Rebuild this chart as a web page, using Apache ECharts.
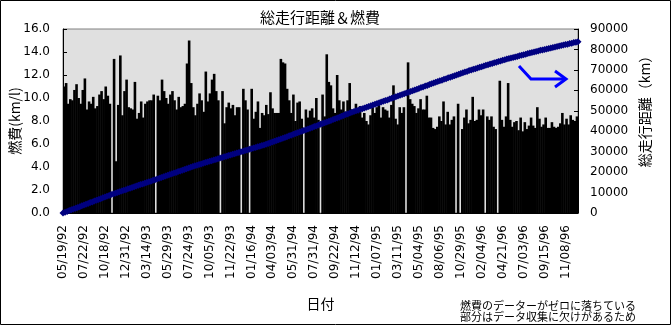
<!DOCTYPE html>
<html>
<head>
<meta charset="utf-8">
<script src="https://cdn.jsdelivr.net/npm/echarts/dist/echarts.min.js"></script>
<style>
html, body { margin: 0; padding: 0; background: #fff; }
#chart { width: 671px; height: 325px; }
</style>
</head>
<body>
<div id="chart"></div>
<script>
// Date labels shown under every tenth fill-up
const tickLabels = [
  '05/19/92', '07/22/92', '10/18/92', '12/31/92', '03/14/93', '05/29/93', '07/24/93',
  '10/05/93', '11/22/93', '01/16/94', '04/03/94', '05/31/94', '07/31/94', '09/22/94',
  '11/12/94', '01/07/95', '03/11/95', '05/04/95', '08/06/95', '10/29/95', '02/04/96',
  '04/21/96', '07/03/96', '09/15/96', '11/08/96'
];

// Fuel economy per fill-up (km/l); 0 marks a fill-up with no recorded data
const fuelEconomy = [
  11.0, 11.3, 9.5, 9.9, 9.8, 10.7, 11.2, 10.0, 9.5, 10.7,
  11.7, 9.0, 9.7, 9.5, 10.1, 9.1, 9.3, 10.3, 10.6, 9.9,
  11.0, 10.2, 9.5, 0, 13.4, 4.5, 9.4, 13.7, 8.5, 10.6,
  11.6, 9.2, 9.1, 9.0, 11.4, 8.2, 8.7, 9.7, 8.3, 9.5,
  9.7, 9.8, 9.8, 10.3, 0, 10.2, 9.8, 11.6, 10.6, 10.0,
  9.5, 10.3, 10.6, 9.8, 9.0, 10.1, 9.2, 9.3, 9.5, 13.0,
  15.0, 11.3, 9.2, 8.5, 9.5, 10.4, 9.8, 8.8, 12.3, 9.7,
  10.4, 11.6, 12.1, 10.6, 9.8, 0, 10.6, 7.8, 9.2, 9.6,
  9.1, 9.4, 8.5, 9.2, 9.2, 0, 10.8, 9.8, 9.0, 0,
  10.8, 8.2, 8.8, 9.7, 7.4, 8.7, 8.5, 9.4, 8.6, 10.5,
  9.1, 8.7, 8.7, 8.7, 13.4, 13.1, 13.0, 10.8, 9.8, 8.7,
  10.3, 8.0, 9.6, 9.7, 8.2, 0, 9.0, 8.3, 8.9, 9.1,
  8.3, 10.0, 8.1, 0, 10.3, 8.4, 13.8, 11.4, 11.1, 9.1,
  8.7, 12.0, 9.8, 9.0, 9.7, 8.8, 9.8, 11.3, 9.0, 8.7,
  9.5, 8.8, 9.3, 8.3, 8.7, 8.0, 7.7, 8.5, 9.2, 8.7,
  9.2, 9.7, 8.3, 9.2, 9.0, 8.9, 8.3, 9.4, 11.1, 8.2,
  7.7, 9.2, 8.7, 9.2, 0, 13.1, 9.9, 9.5, 9.3, 8.7,
  9.1, 9.9, 9.0, 9.0, 10.2, 8.3, 8.3, 7.4, 7.3, 7.5,
  8.4, 8.0, 9.7, 7.7, 8.8, 7.7, 8.1, 8.4, 0, 9.5,
  0, 7.3, 8.3, 9.0, 7.8, 8.1, 10.1, 8.0, 8.1, 9.0,
  8.5, 9.0, 0, 8.4, 8.1, 8.4, 7.5, 7.3, 0, 11.5,
  8.1, 7.5, 8.4, 11.3, 8.1, 7.5, 7.9, 8.0, 7.2, 8.3,
  7.1, 7.9, 7.3, 7.6, 8.3, 7.6, 7.4, 9.2, 8.2, 7.5,
  7.7, 8.3, 7.4, 7.4, 7.9, 7.5, 7.4, 7.5, 7.8, 8.7,
  7.7, 8.2, 7.7, 8.5, 8.1, 8.0, 8.4
];

// Total distance travelled at each fill-up (km)
const odometer = [
  0, 360, 790, 1180, 1540, 1950, 2330, 2740, 3100, 3510,
  3890, 4290, 4660, 5080, 5430, 5870, 6210, 6640, 7000, 7400,
  7770, 8190, 8580, 9000,
  9330, 9710, 10030, 10400, 10720, 11100, 11430, 11810, 12120, 12500,
  12810, 13190, 13520, 13880, 14200, 14580, 14900, 15290, 15590, 15970, 16300,
  16670, 17000, 17400, 17720, 18110, 18430, 18820, 19150, 19540, 19860,
  20260, 20570, 20970, 21300, 21690, 22010, 22410, 22720, 23100,
  23390, 23740, 24020, 24370, 24640, 24980, 25260, 25600, 25880, 26220,
  26490, 26850, 27110, 27470, 27730, 28080, 28350, 28700, 28970, 29300,
  29630, 29900, 30240, 30510, 30860, 31130, 31470, 31740, 32090, 32350,
  32700, 32970, 33310, 33600,
  33990, 34330, 34740, 35080, 35490, 35830, 36240, 36580, 36990, 37330,
  37740, 38080, 38490, 38830, 39240, 39600,
  40000, 40330, 40750, 41090, 41510, 41840, 42260, 42590, 43010, 43350,
  43770, 44100, 44500,
  44920, 45280, 45720, 46080, 46520, 46880, 47320, 47680, 48120, 48480, 48900,
  49280, 49590, 49990, 50310, 50700, 51020, 51410, 51730, 52130, 52440,
  52840, 53160, 53550, 53870, 54260, 54600,
  54990, 55330, 55740, 56070, 56480, 56820, 57230, 57560, 57980, 58310, 58700,
  59090, 59430, 59840, 60170, 60590, 60920, 61330, 61670, 62080, 62410,
  62830, 63160, 63570, 63910, 64300,
  64680, 64990, 65390, 65710, 66100, 66420, 66820, 67130, 67530, 67840,
  68240, 68560, 68950, 69270, 69660, 70000,
  70330, 70610, 70960, 71230, 71580, 71860, 72210, 72480, 72830, 73110,
  73460, 73730, 74080, 74360, 74710, 75000,
  75290, 75520, 75830, 76060, 76360, 76590, 76900, 77130, 77440, 77670,
  77980, 78210, 78510, 78740, 79050, 79300,
  79560, 79750, 80030, 80230, 80510, 80700, 80980, 81180, 81450, 81650,
  81930, 82120, 82400, 82600, 82870, 83070, 83350, 83540, 83800
];

const fillNo = fuelEconomy.map((_, i) => i);

const FONT = '"DejaVu Sans", "Noto Sans CJK JP", sans-serif';
const JP = '"Noto Sans CJK JP", sans-serif';

const chart = echarts.init(document.getElementById('chart'), null, { renderer: 'canvas' });

chart.setOption({
  animation: false,
  backgroundColor: '#ffffff',
  title: {
    text: '総走行距離＆燃費',
    left: 315,
    top: 5,
    textAlign: 'center',
    textStyle: { fontFamily: JP, fontSize: 15, fontWeight: 'normal', color: '#000' }
  },
  grid: {
    left: 63, right: 93, top: 29, bottom: 112,
    containLabel: false,
    outerBoundsMode: 'none',
    show: true, backgroundColor: '#e0e0e0', borderColor: '#808080', borderWidth: 1
  },
  xAxis: [
    {
      // band axis carrying the fuel-economy bars
      type: 'category',
      data: fillNo,
      boundaryGap: true,
      show: false
    },
    {
      // fill-up positions for the distance line and the date labels
      type: 'category',
      data: fillNo,
      boundaryGap: false,
      position: 'bottom',
      name: '日付',
      nameLocation: 'middle',
      nameGap: 84,
      nameMoveOverlap: false,
      nameTextStyle: { fontFamily: JP, fontSize: 14, color: '#000' },
      axisLine: { show: true, lineStyle: { color: '#000', width: 1 } },
      axisTick: { show: false },
      splitLine: { show: false },
      axisLabel: {
        interval: 9,
        rotate: 90,
        margin: 12,
        fontFamily: FONT,
        fontSize: 12,
        color: '#000',
        formatter: (v, i) => (i % 10 === 0 && tickLabels[i / 10]) ? tickLabels[i / 10] : ''
      }
    }
  ],
  yAxis: [
    {
      type: 'value',
      min: 0, max: 16, interval: 2,
      position: 'left',
      name: '燃費(km/l)',
      nameLocation: 'middle',
      nameRotate: 90,
      nameGap: 41,
      nameMoveOverlap: false,
      nameTextStyle: { fontFamily: JP, fontSize: 14, color: '#000' },
      axisLine: { show: true, lineStyle: { color: '#000', width: 1 } },
      axisTick: { show: true, inside: true, length: 4, lineStyle: { color: '#000' } },
      splitLine: { show: false },
      axisLabel: {
        margin: 13, fontFamily: FONT, fontSize: 12, color: '#000',
        formatter: v => v.toFixed(1)
      }
    },
    {
      type: 'value',
      min: 0, max: 90000, interval: 10000,
      position: 'right',
      name: '総走行距離（km）',
      nameLocation: 'middle',
      nameRotate: 90,
      nameGap: 60,
      nameMoveOverlap: false,
      nameTextStyle: { fontFamily: JP, fontSize: 14, color: '#000', padding: [0, 0, 0, 26] },
      axisLine: { show: true, lineStyle: { color: '#000', width: 1 } },
      axisTick: { show: true, inside: true, length: 4, lineStyle: { color: '#000' } },
      splitLine: { show: false },
      axisLabel: {
        margin: 12, fontFamily: FONT, fontSize: 12, color: '#000',
        formatter: v => String(v)
      }
    }
  ],
  series: [
    {
      name: '燃費',
      type: 'bar',
      xAxisIndex: 0,
      yAxisIndex: 0,
      data: fuelEconomy,
      barWidth: 2.6,
      itemStyle: { color: '#000000' }
    },
    {
      name: '総走行距離',
      type: 'line',
      xAxisIndex: 1,
      yAxisIndex: 1,
      data: odometer,
      symbol: 'diamond',
      symbolSize: 7,
      showAllSymbol: true,
      lineStyle: { color: '#000080', width: 2 },
      itemStyle: { color: '#000080', borderWidth: 0 },
      z: 5
    }
  ],
  graphic: [
    // arrow pointing to the right-hand axis
    {
      type: 'polyline',
      z: 100,
      shape: { points: [[519, 66], [531, 79], [565, 79]] },
      style: { stroke: '#0000ff', lineWidth: 3, fill: null }
    },
    {
      type: 'polyline',
      z: 100,
      shape: { points: [[555, 71], [566, 79], [555, 87]] },
      style: { stroke: '#0000ff', lineWidth: 3, fill: null }
    },
    {
      type: 'text',
      left: 460,
      top: 300,
      z: 100,
      style: {
        text: '燃費のデーターがゼロに落ちている\n部分はデータ収集に欠けがあるため',
        font: '11px "Noto Sans CJK JP", sans-serif',
        fill: '#000',
        lineHeight: 11
      }
    },
    {
      type: 'rect',
      z: 100,
      silent: true,
      shape: { x: 0.5, y: 0.5, width: 670, height: 324 },
      style: { stroke: '#000', lineWidth: 1, fill: null }
    }
  ]
});
</script>
</body>
</html>
